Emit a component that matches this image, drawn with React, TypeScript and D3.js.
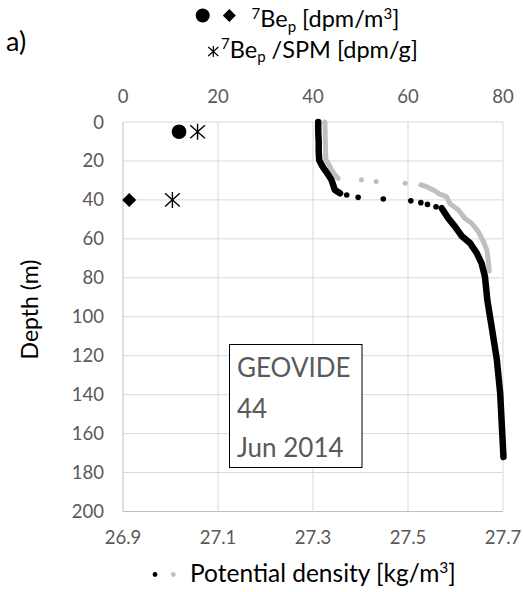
import React from "react";
import * as d3 from "d3";

// ---- Data ----
// 7Be_p activity [dpm/m3]
const beCircleDepth = [5];
const beCircleValue = [11.8];
const beDiamondDepth = [40];
const beDiamondValue = [1.3];
// 7Be_p / SPM [dpm/g]
const beSpmDepth = [5, 40];
const beSpmValue = [15.7, 10.4];

// Potential density, black profile (continuous parts and sparse points)
const blackTopDepth = [0, 5, 10, 15, 19.5, 22, 24.6, 27, 29.8, 32, 34.9, 36.6];
const blackTopDens = [27.311, 27.311, 27.312, 27.312, 27.313, 27.318, 27.325, 27.332, 27.339, 27.342, 27.346, 27.357];
const blackDotDepth = [37.5, 38.7, 39.5, 40.5, 41.4, 42.3, 43.5];
const blackDotDens = [27.371, 27.395, 27.448, 27.506, 27.527, 27.541, 27.559];
const blackDeepDepth = [44.3, 49.5, 53.7, 58.5, 62.3, 67.4, 72.6, 79.4, 91.4, 105, 122, 139, 172];
const blackDeepDens = [27.571, 27.585, 27.599, 27.613, 27.631, 27.645, 27.655, 27.662, 27.667, 27.676, 27.687, 27.694, 27.701];

// Potential density, grey profile
const greyTopDepth = [0, 10, 19.5, 22, 24.6, 27, 29];
const greyTopDens = [27.325, 27.326, 27.327, 27.334, 27.339, 27.346, 27.353];
const greyDotDepth = [29.6, 30.6, 31.5];
const greyDotDens = [27.402, 27.433, 27.494];
const greyDeepDepth = [32.3, 33.2, 34.9, 37, 38.3, 41.8, 45.2, 49.5, 52, 56.3, 61.5, 65.7, 70.9, 76.5];
const greyDeepDens = [27.527, 27.539, 27.553, 27.567, 27.581, 27.588, 27.606, 27.62, 27.634, 27.648, 27.659, 27.666, 27.669, 27.671];

// Ticks
const densTicks = [26.9, 27.1, 27.3, 27.5, 27.7];
const beTicks = [0, 20, 40, 60, 80];
const depthTicks = [0, 20, 40, 60, 80, 100, 120, 140, 160, 180, 200];
const boxLines = ["GEOVIDE", "44", "Jun 2014"];

const W = 523;
const H = 592;
const FONT = "Lato, 'Open Sans', sans-serif";
const TICK = "#595959";

export default function App() {
  const x = d3.scaleLinear().domain([26.9, 27.7]).range([123, 503]);
  const xTop = d3.scaleLinear().domain([0, 80]).range([123, 503]);
  const y = d3.scaleLinear().domain([0, 200]).range([122, 511.5]);

  const line = d3
    .line<[number, number]>()
    .x((d) => x(d[0]))
    .y((d) => y(d[1]))
    .curve(d3.curveLinear);

  const zip = (a: number[], b: number[]) => a.map((v, i) => [v, b[i]] as [number, number]);

  const star = (cx: number, cy: number, h: number) => {
    const dx = h * 0.92;
    const dy = h * 0.82;
    return `M${cx},${cy - h}L${cx},${cy + h}M${cx - dx},${cy - dy}L${cx + dx},${cy + dy}M${cx - dx},${cy + dy}L${cx + dx},${cy - dy}`;
  };
  const diamond = (cx: number, cy: number, h: number) =>
    `M${cx},${cy - h}L${cx + h},${cy}L${cx},${cy + h}L${cx - h},${cy}Z`;

  const grey = "#bfbfbf";

  return (
    <svg
      width={W}
      height={H}
      style={{ position: "absolute", left: 0, top: 0, background: "#fff" }}
      fontFamily={FONT}
    >
      <rect width={W} height={H} fill="#fff" />

      {/* grid */}
      {depthTicks.map((t) => (
        <line key={"h" + t} x1={x(26.9)} x2={x(27.7)} y1={y(t)} y2={y(t)} stroke={t === 200 ? "#bfbfbf" : "#d9d9d9"} strokeWidth={1} />
      ))}
      {densTicks.map((t) => (
        <line key={"v" + t} x1={x(t)} x2={x(t)} y1={y(0)} y2={y(200)} stroke={t === 26.9 ? "#bfbfbf" : "#d9d9d9"} strokeWidth={1} />
      ))}

      {/* tick labels */}
      {beTicks.map((t) => (
        <text key={"tt" + t} x={xTop(t)} y={103} textAnchor="middle" fontSize={18.5} fill={TICK}>
          {t}
        </text>
      ))}
      {densTicks.map((t) => (
        <text key={"bt" + t} x={x(t)} y={543.5} textAnchor="middle" fontSize={18.5} fill={TICK}>
          {t.toFixed(1)}
        </text>
      ))}
      {depthTicks.map((t) => (
        <text key={"lt" + t} x={104} y={y(t) + 6.5} textAnchor="end" fontSize={18.5} fill={TICK}>
          {t}
        </text>
      ))}

      {/* axis title */}
      <text transform="translate(38,309.5) rotate(-90)" textAnchor="middle" fontSize={23} fill="#000">
        Depth (m)
      </text>

      {/* text box */}
      <rect x={229.5} y={344.5} width={132.5} height={123} fill="#fff" stroke="#000" strokeWidth={1} />
      {boxLines.map((s, i) => (
        <text key={s} x={237} y={[376.7, 418, 456.7][i]} fontSize={26} fill={TICK}>
          {s}
        </text>
      ))}

      {/* grey profile */}
      <path d={line(zip(greyTopDens, greyTopDepth)) || ""} fill="none" stroke={grey} strokeWidth={5} strokeLinecap="round" strokeLinejoin="round" />
      <path d={line(zip(greyDeepDens, greyDeepDepth)) || ""} fill="none" stroke={grey} strokeWidth={5} strokeLinecap="round" strokeLinejoin="round" />
      {greyDotDens.map((v, i) => (
        <circle key={"gd" + i} cx={x(v)} cy={y(greyDotDepth[i])} r={2.5} fill={grey} />
      ))}

      {/* black profile */}
      <path d={line(zip(blackTopDens, blackTopDepth)) || ""} fill="none" stroke="#000" strokeWidth={6.5} strokeLinecap="round" strokeLinejoin="round" />
      <path d={line(zip(blackDeepDens, blackDeepDepth)) || ""} fill="none" stroke="#000" strokeWidth={6.5} strokeLinecap="round" strokeLinejoin="round" />
      {blackDotDens.map((v, i) => (
        <circle key={"bd" + i} cx={x(v)} cy={y(blackDotDepth[i])} r={2.8} fill="#000" />
      ))}

      {/* 7Be markers */}
      {beCircleValue.map((v, i) => (
        <circle key={"bc" + i} cx={xTop(v)} cy={y(beCircleDepth[i])} r={7.3} fill="#000" />
      ))}
      {beDiamondValue.map((v, i) => (
        <path key={"bdm" + i} d={diamond(xTop(v), y(beDiamondDepth[i]), 7)} fill="#000" />
      ))}
      {beSpmValue.map((v, i) => (
        <path key={"bs" + i} d={star(xTop(v), y(beSpmDepth[i]), 8)} stroke="#000" strokeWidth={1.4} fill="none" />
      ))}

      {/* panel label */}
      <text x={6} y={51} fontSize={27} fill="#000">
        a)
      </text>

      {/* top legend */}
      <circle cx={202.7} cy={15.5} r={7} fill="#000" />
      <path d={diamond(229.3, 15.5, 6.5)} fill="#000" />
      <text x={251.5} y={27} fontSize={23.5} fill="#000">
        <tspan fontSize={15} dy={-8.5}>7</tspan>
        <tspan dy={8.5}>Be</tspan>
        <tspan fontSize={15} dy={4.5}>p</tspan>
        <tspan dy={-4.5}> [dpm/m</tspan>
        <tspan fontSize={15} dy={-8.5}>3</tspan>
        <tspan dy={8.5}>]</tspan>
      </text>
      <path d={star(213.3, 51.5, 5.5)} stroke="#000" strokeWidth={1.2} fill="none" />
      <text x={221} y={57.5} fontSize={23.5} fill="#000">
        <tspan fontSize={15} dy={-8.5}>7</tspan>
        <tspan dy={8.5}>Be</tspan>
        <tspan fontSize={15} dy={4.5}>p</tspan>
        <tspan dy={-4.5}> /SPM [dpm/g]</tspan>
      </text>

      {/* bottom legend */}
      <circle cx={155} cy={574.5} r={2.4} fill="#000" />
      <circle cx={173.3} cy={574.5} r={2.4} fill={grey} />
      <text x={190} y={582} fontSize={24.5} fill="#000">
        Potential density [kg/m
        <tspan fontSize={15.5} dy={-9}>3</tspan>
        <tspan dy={9}>]</tspan>
      </text>
    </svg>
  );
}
